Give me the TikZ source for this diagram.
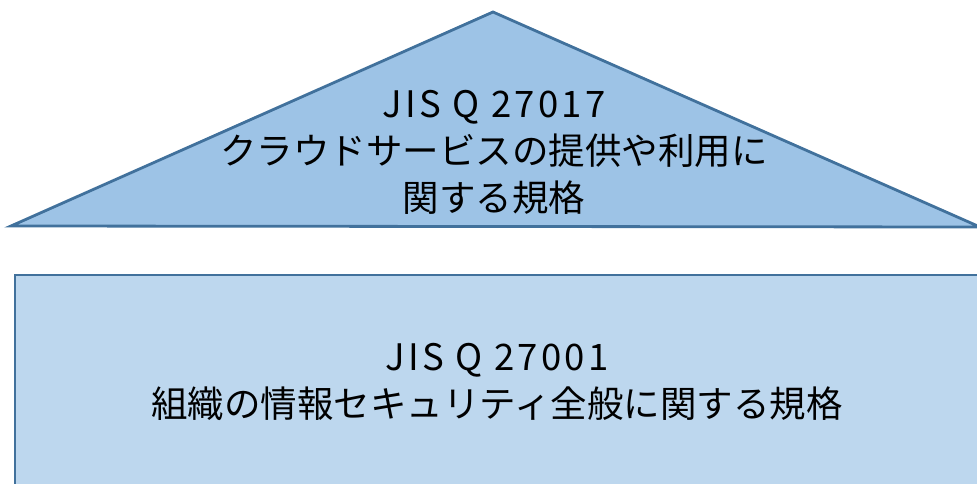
\documentclass[tikz,border=0pt]{standalone}
\usepackage{fontspec}
\setmainfont{Noto Sans CJK JP}
\definecolor{triFill}{HTML}{9DC3E6}
\definecolor{rectFill}{HTML}{BDD7EE}
\definecolor{edge}{HTML}{41719C}
\newcommand{\latinline}[1]{{\addfontfeatures{LetterSpace=9}#1}}
\begin{document}
\begin{tikzpicture}[x=1pt,y=-1pt,
  shapeline/.style={draw=edge,line width=2.8pt,line join=miter},
  lbl/.style={align=center,font=\fontsize{36.5}{47}\selectfont,text=black,inner sep=0pt}]
\useasboundingbox (0,0) rectangle (977,484);
\clip (0,0) rectangle (977,484);
\draw[shapeline,fill=triFill] (11,226) coordinate (tl) -- (493,12) coordinate (ta) -- (980,227) coordinate (tr) -- cycle;
\draw[shapeline,fill=rectFill] (15,275) rectangle (990,495);
\node[lbl] (toptext) at (494,152) {\latinline{JIS Q 27017}\\クラウドサービスの提供や利用に\\関する規格};
\node[lbl] (bottext) at (497,382) {\latinline{JIS Q 27001}\\組織の情報セキュリティ全般に関する規格};
\end{tikzpicture}
\end{document}
